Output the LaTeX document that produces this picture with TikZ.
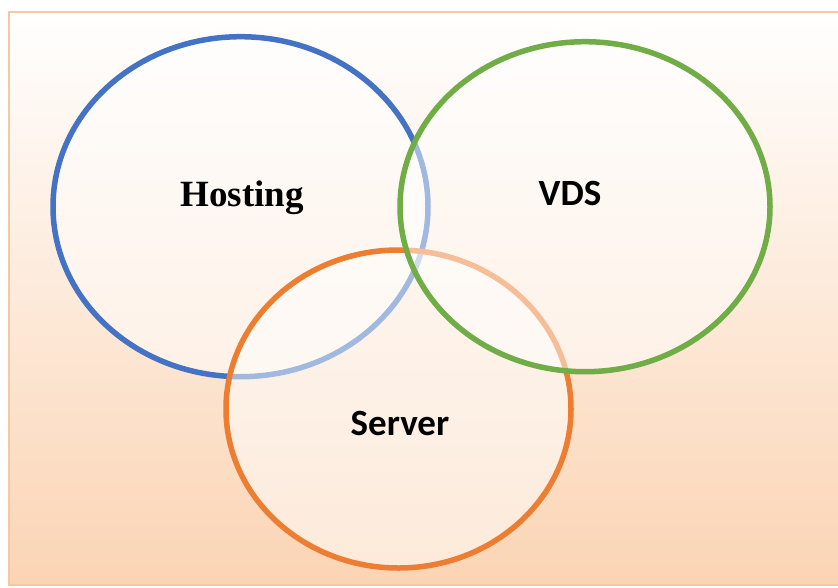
\documentclass[tikz,border=0pt]{standalone}
\usepackage{fontspec}
\setmainfont{Liberation Serif}
\newfontfamily\calib{Carlito}
\usetikzlibrary{shapes.geometric}
\definecolor{hblue}{HTML}{4472C4}
\definecolor{vgreen}{HTML}{70AD47}
\definecolor{sorange}{HTML}{ED7D31}
\definecolor{bgbottom}{RGB}{251,212,180}
\definecolor{frameor}{HTML}{F9C79F}
\tikzset{
  venn/.style={ellipse, inner sep=0pt, outer sep=0pt, line width=5.5pt, fill=white, fill opacity=0.5, draw opacity=1},
  lbl/.style={text=black, inner sep=0pt}
}
\begin{document}
\begin{tikzpicture}[x=1pt,y=-1pt]
\useasboundingbox (0,0) rectangle (838,587);
\shade[top color=white, bottom color=bgbottom] (9,12) rectangle (850,585);
\draw[frameor, line width=2pt] (9,12) rectangle (850,585);
\node[venn, draw=hblue, minimum width=375pt, minimum height=340pt] (blue) at (240.5,206.7) {};
\node[venn, draw=sorange, minimum width=345pt, minimum height=318pt] (orange) at (398.5,409) {};
\node[venn, draw=vgreen, minimum width=370pt, minimum height=330pt] (green) at (585,206.7) {};
\node[lbl, font=\bfseries\fontsize{37}{40}\selectfont] (hosting) at (242,198) {Hosting};
\node[lbl, font=\calib\bfseries\fontsize{37}{40}\selectfont] (vds) at (570,193) {VDS};
\node[lbl, font=\calib\bfseries\fontsize{37}{40}\selectfont] (server) at (400,423) {Server};
\end{tikzpicture}
\end{document}
